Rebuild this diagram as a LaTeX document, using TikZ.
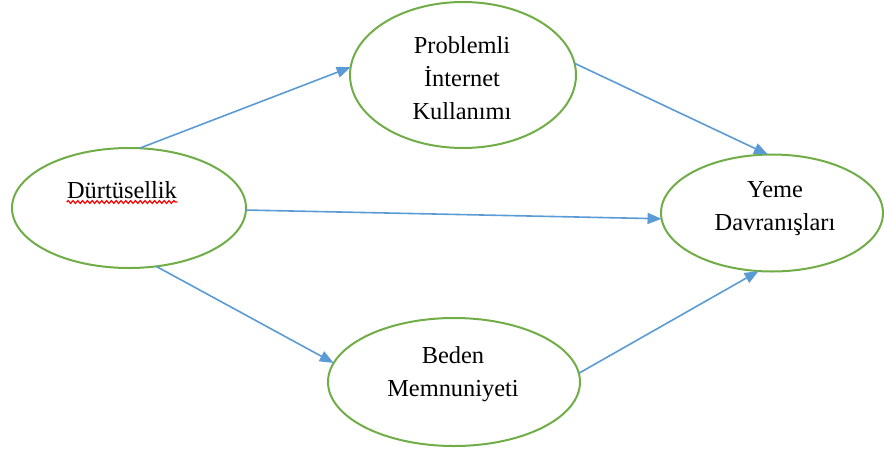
\documentclass[tikz,border=0pt]{standalone}
\usepackage{fontspec}
\setmainfont{Liberation Serif}
\usetikzlibrary{shapes,arrows.meta,decorations.pathmorphing}
\definecolor{ovalgreen}{RGB}{112,173,71}
\definecolor{arrowblue}{RGB}{91,155,213}
\tikzset{
        oval/.style={draw=ovalgreen, line width=1pt, ellipse, inner sep=0pt, outer sep=0pt},
        txt/.style={align=center, inner sep=0pt, font=\fontsize{12.2}{16.5}\selectfont},
        link/.style={draw=arrowblue, line width=0.8pt, -{Triangle[length=7pt,width=5.5pt]}},
        wavy/.style={red, line width=0.6pt, decorate, decoration={snake, amplitude=0.7pt, segment length=2.4pt}}
    }

\begin{document}
\begin{tikzpicture}[x=0.5pt,y=-0.5pt]
            \useasboundingbox (0,0) rectangle (884,450);

            \node [oval, minimum width=117pt, minimum height=60pt] (dur) at (129, 208) {};
            \node [oval, minimum width=113pt, minimum height=73pt] (pil) at (463, 75) {};
            \node [oval, minimum width=111pt, minimum height=58.5pt] (yeme) at (772, 213) {};
            \node [oval, minimum width=126pt, minimum height=64pt] (bdn) at (454, 382) {};

            \node [txt] (t1) at (122, 190) {Dürtüsellik};
            \node [txt] (t2) at (462, 78) {Problemli\\İnternet\\Kullanımı};
            \node [txt] (t3) at (775, 209) {Yeme\\Davranışları};
            \node [txt] (t4) at (453, 374) {Beden\\Memnuniyeti};
            \draw [wavy] ([yshift=-1.5pt]t1.south west) -- ([yshift=-1.5pt]t1.south east);

            \draw [link] (dur.80) -- (pil.176);
            \draw [link] (pil.6) -- (yeme.94);
            \draw [link] (dur.-1) -- (yeme.183);
            \draw [link] (dur.-65) -- (bdn.171);
            \draw [link] (bdn.4) -- (yeme.257);
        \end{tikzpicture}
\end{document}
